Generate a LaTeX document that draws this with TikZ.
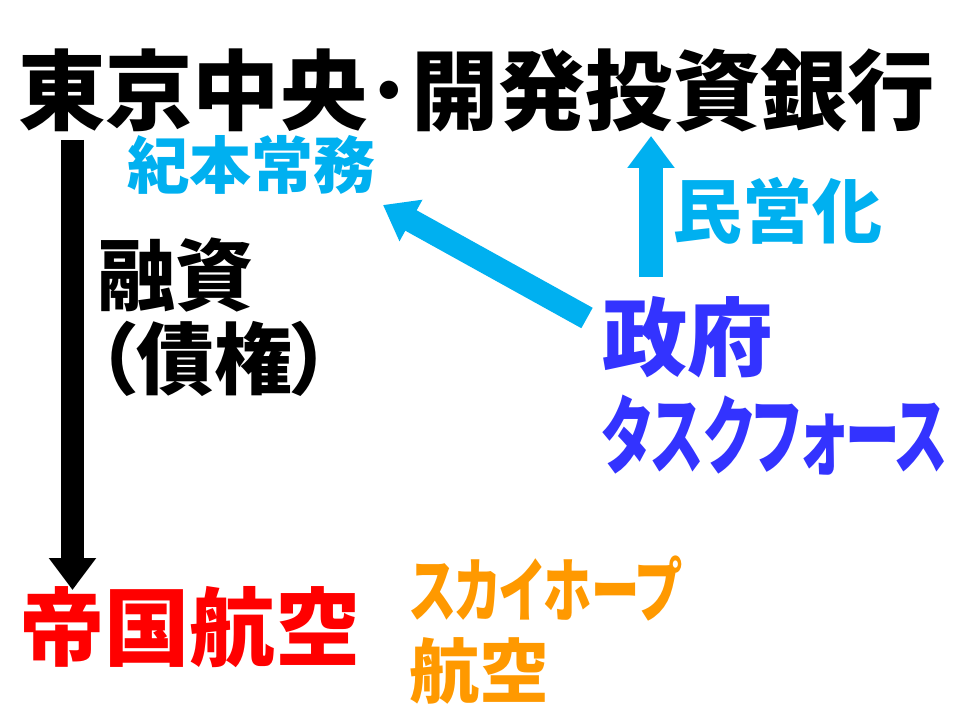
\documentclass[tikz,border=0pt]{standalone}
\usepackage{fontspec}
\setmainfont{Noto Sans CJK JP}
\newfontfamily\paltfont{Noto Sans CJK JP}[RawFeature=+palt]
\newfontfamily\kanafont{Noto Sans CJK JP}[RawFeature=+palt,FakeStretch=0.64]
\newfontfamily\kanawide{Noto Sans CJK JP}[RawFeature=+palt,FakeStretch=0.69]
\usetikzlibrary{arrows.meta}
\definecolor{skyblue}{HTML}{00B0F0}
\definecolor{govblue}{HTML}{3333FF}
\definecolor{skyorange}{HTML}{FF9900}
\tikzset{
    lbl/.style={inner sep=0pt,anchor=base west},
    fat/.style={line width=17.5pt,-{Triangle[length=24pt,width=34pt]}}
}
\begin{document}
\begin{tikzpicture}[x=0.75pt,y=-0.75pt]
    \useasboundingbox[fill=white] (0,0) rectangle (960,720);
    % banks and companies
    \node[lbl,font=\bfseries\fontsize{65.5pt}{70pt}\selectfont] (bank) at (18,124) {東京中央･開発投資銀行};
    \node[lbl,skyblue,font=\bfseries\fontsize{46.5pt}{50pt}\selectfont] (kimoto) at (127,189) {紀本常務};
    \node[lbl,font=\bfseries\fontsize{58.5pt}{62pt}\selectfont] (loan) at (97,305) {融資};
    \node[lbl,font=\paltfont\bfseries\fontsize{58.5pt}{62pt}\selectfont] (claim) at (97,388) {（債権）};
    \node[lbl,skyblue,font=\bfseries\fontsize{52.5pt}{55pt}\selectfont] (priv) at (672,238) {民営化};
    \node[lbl,govblue,font=\bfseries\fontsize{64pt}{66pt}\selectfont] (gov) at (602,369) {政府};
    \node[lbl,govblue,font=\kanafont\bfseries\fontsize{64pt}{66pt}\selectfont] (task) at (602,467) {タスクフォース};
    \node[lbl,red,font=\bfseries\fontsize{64pt}{66pt}\selectfont] (teikoku) at (19,659) {帝国航空};
    \node[lbl,skyorange,font=\kanawide\bfseries\fontsize{52.5pt}{55pt}\selectfont] (skyhope) at (410,616) {スカイホープ};
    \node[lbl,skyorange,font=\bfseries\fontsize{52.5pt}{55pt}\selectfont] (skyair) at (409,697) {航空};
    % arrows
    \coordinate (lendA) at (72.5,140);
    \coordinate (lendB) at (72.5,590);
    \coordinate (upA) at (651,277);
    \coordinate (upB) at (651,136);
    \coordinate (diagA) at (587,318);
    \coordinate (diagB) at (383,205);
    \draw[fat,black] (lendA) -- (lendB);
    \draw[fat,skyblue] (upA) -- (upB);
    \draw[fat,skyblue] (diagA) -- (diagB);
\end{tikzpicture}
\end{document}
